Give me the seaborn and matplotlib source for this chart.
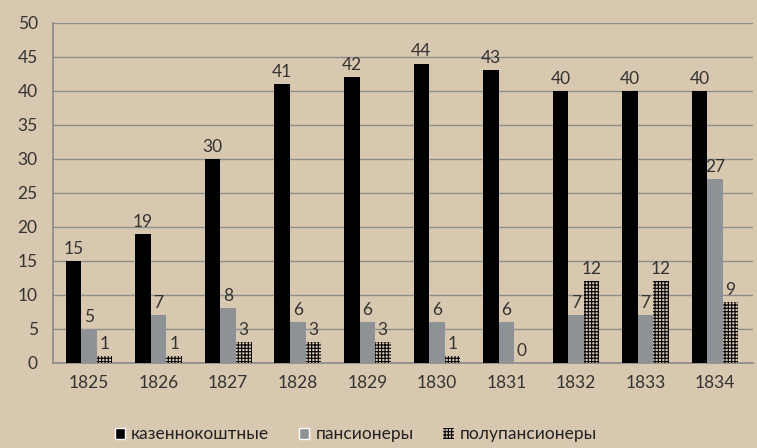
import matplotlib
matplotlib.use("Agg")
import matplotlib.pyplot as plt
import seaborn as sns
import pandas as pd
import numpy as np
from matplotlib.patches import Patch

years = ["1825", "1826", "1827", "1828", "1829", "1830", "1831", "1832", "1833", "1834"]
kazenno = [15, 19, 30, 41, 42, 44, 43, 40, 40, 40]
pansion = [5, 7, 8, 6, 6, 6, 6, 7, 7, 27]
polupansion = [1, 1, 3, 3, 3, 1, 0, 12, 12, 9]
series = ["казеннокоштные", "пансионеры", "полупансионеры"]

df = pd.DataFrame({
    "year": years * 3,
    "value": kazenno + pansion + polupansion,
    "series": [series[0]] * 10 + [series[1]] * 10 + [series[2]] * 10,
})

bg = "#d9c8b0"
gray = "#8e9296"
sns.set_theme(style="white")
plt.rcParams["font.family"] = ["Lato", "DejaVu Sans"]
plt.rcParams["hatch.linewidth"] = 0.8

fig = plt.figure(figsize=(7.57, 4.48), dpi=100, facecolor=bg)
ax = fig.add_axes([0.070, 0.190, 0.925, 0.759])
ax.set_facecolor(bg)

sns.barplot(data=df, x="year", y="value", hue="series", hue_order=series,
            palette=["black", gray, bg], width=0.67, ax=ax, legend=False,
            saturation=1, linewidth=0, zorder=3)

for p in ax.containers[2].patches:
    p.set_hatch("+++++")
    p.set_edgecolor("black")
    p.set_linewidth(0)

for c in ax.containers:
    ax.bar_label(c, fontsize=12.5, color="#333333", padding=3)

ax.set_ylim(0, 50)
ax.set_yticks(np.arange(0, 51, 5))
ax.set_xlim(-0.52, 9.55)
ax.yaxis.grid(True, color="#8c8c8c", linewidth=1, zorder=0)
ax.set_axisbelow(True)
ax.set_xlabel("")
ax.set_ylabel("")
for s in ["top", "right"]:
    ax.spines[s].set_visible(False)
ax.spines["left"].set_color("#8c8c8c")
ax.spines["bottom"].set_color("#8c8c8c")
ax.tick_params(axis="y", length=5, color="#8c8c8c", labelsize=12.5, labelcolor="#333333", pad=6)
ax.tick_params(axis="x", which="major", length=0, labelsize=12.5, labelcolor="#333333", pad=9)
ax.set_xticks(np.arange(-0.5, 10, 1), minor=True)
ax.tick_params(axis="x", which="minor", length=5, color="#8c8c8c")

handles = [Patch(facecolor="black"), Patch(facecolor=gray),
           Patch(facecolor=bg, hatch="+++++", edgecolor="black", linewidth=0)]
fig.legend(handles, series, loc="lower center", bbox_to_anchor=(0.47, -0.022), ncol=3,
           frameon=False, fontsize=12.5, handlelength=0.6, handleheight=0.6,
           handletextpad=0.35, columnspacing=1.7, labelcolor="#222222")

fig.savefig("out.png", dpi=100, facecolor=bg)
